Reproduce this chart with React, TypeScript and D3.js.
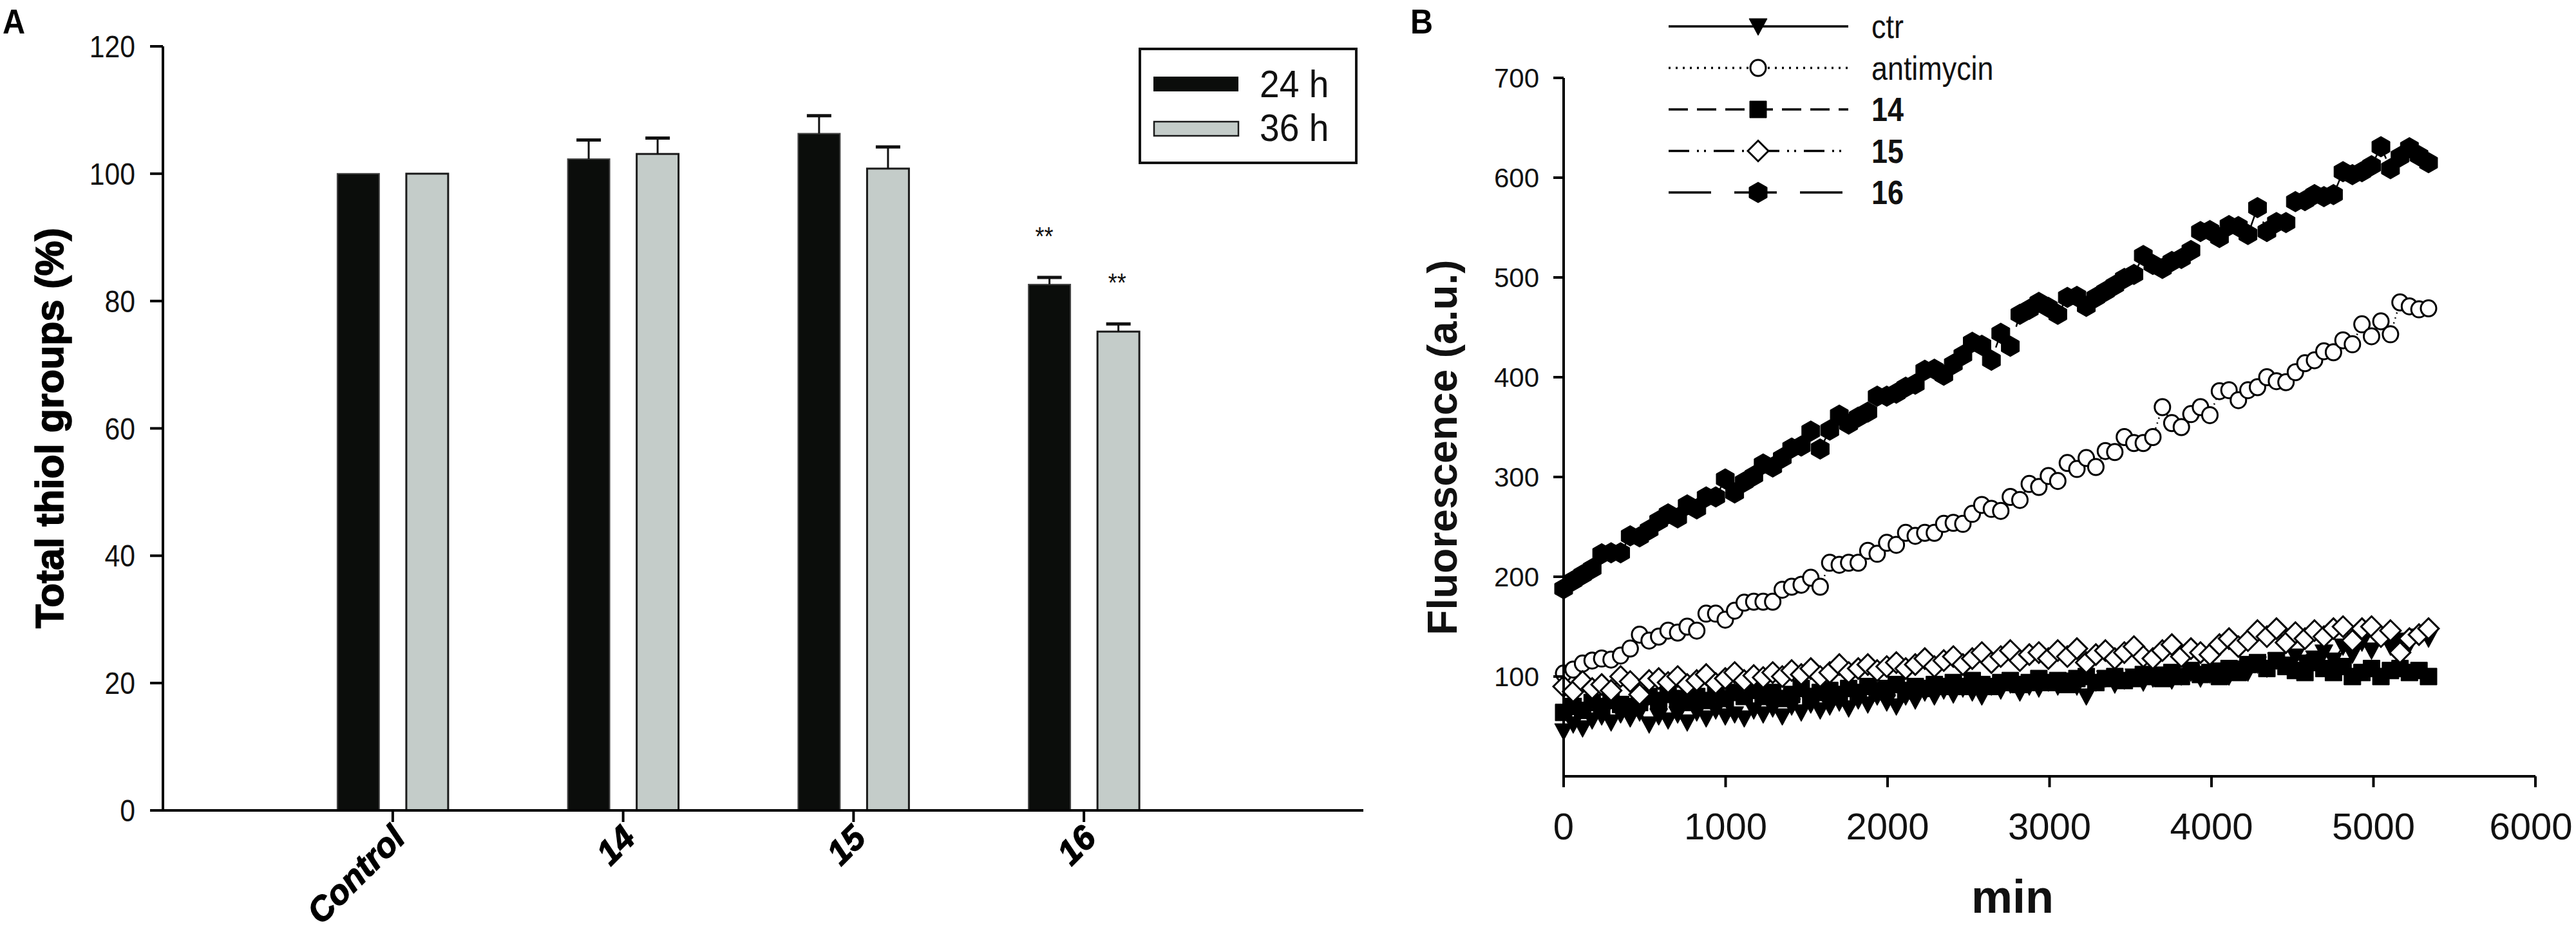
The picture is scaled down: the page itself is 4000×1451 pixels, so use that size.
import React from 'react';
import * as d3 from 'd3';

// ---------- Panel A data ----------
const categories = ['Control', '14', '15', '16'];
const groups = ['24 h', '36 h'];
const values24 = [100, 102.3, 106.3, 82.6];
const values36 = [100, 103.1, 100.8, 75.2];
const err24 = [0, 3.0, 2.8, 1.1];
const err36 = [0, 2.5, 3.4, 1.2];
const sig24 = ['', '', '', '**'];
const sig36 = ['', '', '', '**'];
const yTicksA = [0, 20, 40, 60, 80, 100, 120];

// ---------- Panel B data ----------
const times = [0, 59, 117, 176, 235, 293, 352, 411, 469, 528, 587, 645, 704, 763, 822, 880, 939, 998, 1056, 1115,
  1174, 1232, 1291, 1350, 1408, 1467, 1526, 1584, 1643, 1702, 1760, 1819, 1878, 1936, 1995, 2054, 2112, 2171, 2230, 2289,
  2347, 2406, 2465, 2523, 2582, 2641, 2699, 2758, 2817, 2875, 2934, 2993, 3051, 3110, 3169, 3227, 3286, 3345, 3403, 3462,
  3521, 3579, 3638, 3697, 3755, 3814, 3873, 3932, 3990, 4049, 4108, 4166, 4225, 4284, 4342, 4401, 4460, 4518, 4577, 4636,
  4694, 4753, 4812, 4870, 4929, 4988, 5046, 5105, 5164, 5222, 5281, 5340];

const ctr = [45, 52, 48, 56, 60, 54, 62, 58, 64, 52, 60, 56, 62, 54, 64, 58, 66, 60, 62, 58,
  66, 62, 68, 60, 70, 64, 72, 66, 70, 74, 68, 76, 72, 80, 74, 70, 80, 76, 84, 80,
  86, 82, 88, 84, 80, 90, 86, 92, 84, 90, 88, 94, 90, 96, 90, 80, 94, 98, 92, 96,
  100, 94, 98, 102, 96, 100, 104, 98, 102, 106, 100, 108, 104, 112, 108, 116, 112, 120, 114, 118,
  124, 116, 130, 122, 134, 126, 138, 130, 136, 132, 140, 138];

const antimycin = [103, 107, 113, 116, 118, 117, 121, 128, 142, 136, 140, 146, 144, 150, 146, 163, 163, 157, 166, 174,
  175, 175, 175, 187, 190, 192, 199, 190, 214, 212, 214, 214, 226, 223, 234, 232, 244, 241, 244, 244,
  253, 254, 253, 263, 272, 268, 266, 280, 277, 293, 290, 301, 296, 314, 308, 319, 310, 326, 325, 340,
  334, 334, 340, 370, 354, 350, 363, 370, 362, 386, 387, 377, 387, 390, 400, 396, 395, 405, 414, 417,
  426, 425, 437, 433, 453, 441, 456, 443, 475, 471, 468, 469];

const c14 = [64, 70, 66, 74, 70, 76, 72, 70, 74, 80, 76, 82, 78, 74, 80, 76, 82, 78, 84, 80,
  86, 80, 84, 78, 82, 88, 80, 84, 86, 82, 88, 84, 90, 86, 88, 92, 86, 90, 88, 92,
  90, 94, 90, 96, 92, 90, 94, 96, 92, 94, 98, 94, 96, 92, 98, 100, 94, 98, 100, 96,
  98, 102, 100, 98, 104, 100, 106, 102, 104, 100, 108, 104, 112, 114, 108, 116, 110, 106, 104, 114,
  108, 104, 110, 100, 104, 108, 100, 106, 108, 104, 106, 100];

const c15 = [90, 85, 95, 88, 92, 86, 100, 95, 82, 96, 98, 94, 100, 92, 96, 102, 93, 98, 104, 96,
  101, 99, 104, 100, 106, 102, 108, 100, 104, 112, 104, 108, 112, 106, 110, 114, 108, 112, 118, 110,
  116, 120, 112, 118, 124, 114, 120, 126, 116, 122, 124, 118, 126, 120, 128, 114, 122, 126, 118, 124,
  130, 120, 118, 126, 132, 120, 128, 124, 122, 132, 138, 130, 136, 146, 140, 148, 134, 144, 138, 146,
  140, 148, 150, 136, 148, 150, 140, 146, 124, 138, 142, 148];

const c16 = [188, 196, 202, 208, 223, 224, 224, 241, 240, 247, 256, 263, 259, 272, 268, 280, 280, 298, 284, 295,
  301, 313, 310, 319, 329, 331, 346, 328, 347, 362, 353, 360, 365, 381, 381, 384, 390, 393, 407, 408,
  402, 413, 422, 435, 432, 417, 444, 431, 463, 468, 475, 470, 463, 480, 481, 471, 480, 486, 492, 499,
  503, 522, 513, 509, 516, 519, 527, 546, 547, 540, 552, 551, 543, 570, 546, 555, 555, 576, 577, 583,
  581, 583, 606, 603, 606, 612, 631, 609, 621, 630, 622, 615];

const seriesNames = ['ctr', 'antimycin', '14', '15', '16'];
const seriesBold = [false, false, true, true, true];
const xTicksB = [0, 1000, 2000, 3000, 4000, 5000, 6000];
const yTicksB = [100, 200, 300, 400, 500, 600, 700];

const FONT = 'Liberation Sans, Arial, sans-serif';
const BLACK = '#0b0d0b';
const GRAY = '#c4ccc9';

function markerPath(kind: string): string {
  switch (kind) {
    case 'tri': return 'M-14,-12L14,-12L0,14Z';
    case 'square': return 'M-13,-13L13,-13L13,13L-13,13Z';
    case 'diamond': return 'M0,-16L16,0L0,16L-16,0Z';
    case 'hex': return 'M0,-16L14,-8L14,8L0,16L-14,8L-14,-8Z';
    default: return '';
  }
}

function Marker({ kind, x, y }: { kind: string; x: number; y: number }) {
  if (kind === 'circle') {
    return <ellipse cx={x} cy={y} rx={12} ry={12.5} fill="#fff" stroke="#000" strokeWidth={3} />;
  }
  const filled = kind === 'tri' || kind === 'square' || kind === 'hex';
  return (
    <path d={markerPath(kind)} transform={`translate(${x},${y})`} fill={filled ? '#000' : '#fff'}
      stroke="#000" strokeWidth={filled ? 1 : 3} strokeLinejoin="miter" />
  );
}

export default function App() {
  // ---------- Panel A scales ----------
  const yA = d3.scaleLinear().domain([0, 120]).range([1259, 72]);
  const xA = d3.scaleBand<string>().domain(categories).range([431, 1862]).paddingInner(0).paddingOuter(0);
  const sub = d3.scaleBand<string>().domain(groups).range([-86, 86]).paddingInner(0.393);
  const axisAX = 253;
  const axisAEnd = 2117;

  // ---------- Panel B scales ----------
  const xB = d3.scaleLinear().domain([0, 6000]).range([2428, 3937]);
  const yB = d3.scaleLinear().domain([0, 700]).range([1206, 121]);

  const seriesData = [ctr, antimycin, c14, c15, c16];
  const kinds = ['tri', 'circle', 'square', 'diamond', 'hex'];
  const dashes = ['none', '2 6', '22 12', '22 8 3 6 3 8', '50 30'];
  const legendDashes = ['none', '3 8', '30 14', '32 12 3 8 3 12', '66 36'];

  const line = d3.line<[number, number]>().x(d => xB(d[0])).y(d => yB(d[1]));

  const bars: JSX.Element[] = [];
  categories.forEach((c, i) => {
    const cx = (xA(c) as number) + xA.bandwidth() / 2;
    const sets = [
      { g: groups[0], v: values24[i], e: err24[i], s: sig24[i], fill: BLACK, stroke: '#444', sw: 2 },
      { g: groups[1], v: values36[i], e: err36[i], s: sig36[i], fill: GRAY, stroke: '#1a1a1a', sw: 3 },
    ];
    sets.forEach((st, j) => {
      const bx = cx + (sub(st.g) as number);
      const bw = sub.bandwidth();
      const top = yA(st.v);
      const bcx = bx + bw / 2;
      bars.push(
        <g key={`b${i}-${j}`}>
          <rect x={bx} y={top} width={bw} height={yA(0) - top} fill={st.fill} stroke={st.stroke} strokeWidth={st.sw} />
          {st.e > 0 && (
            <g stroke="#111">
              <line x1={bcx} x2={bcx} y1={top} y2={yA(st.v + st.e)} strokeWidth={3} />
              <line x1={bcx - 19} x2={bcx + 19} y1={yA(st.v + st.e)} y2={yA(st.v + st.e)} strokeWidth={5} />
            </g>
          )}
          {st.s && (
            <text transform={`translate(${bcx - (j === 0 ? 8 : 2)},${yA(st.v + st.e) - 50}) scale(0.9,1)`}
              textAnchor="middle" fontFamily={FONT} fontSize={40} fill="#111">{st.s}</text>
          )}
        </g>
      );
    });
  });

  return (
    <svg width={4000} height={1451} viewBox="0 0 4000 1451"
      style={{ position: 'absolute', left: 0, top: 0, background: '#fff' }}>
      <rect x={0} y={0} width={4000} height={1451} fill="#fff" />

      {/* ================= Panel A ================= */}
      <text transform="translate(4,52) scale(0.9,1)" fontFamily={FONT} fontWeight="bold" fontSize={54} fill="#000">A</text>

      {bars}

      {/* y axis */}
      <line x1={axisAX} x2={axisAX} y1={yA(120)} y2={yA(0)} stroke="#000" strokeWidth={4} />
      {yTicksA.map(t => (
        <g key={`ya${t}`}>
          <line x1={axisAX - 20} x2={axisAX} y1={yA(t)} y2={yA(t)} stroke="#000" strokeWidth={4} />
          <text transform={`translate(${210},${yA(t) + 17}) scale(0.89,1)`} textAnchor="end"
            fontFamily={FONT} fontSize={48} fill="#111">{t}</text>
        </g>
      ))}
      {/* x axis */}
      <line x1={axisAX - 20} x2={axisAEnd} y1={yA(0)} y2={yA(0)} stroke="#000" strokeWidth={4} />
      {categories.map(c => {
        const cx = (xA(c) as number) + xA.bandwidth() / 2;
        return (
          <g key={`xa${c}`}>
            <line x1={cx} x2={cx} y1={yA(0)} y2={yA(0) + 18} stroke="#000" strokeWidth={4} />
            <text transform={`translate(${cx + 22},${yA(0) + 46}) rotate(-45)`} textAnchor="end"
              fontFamily={FONT} fontWeight="bold" fontStyle="italic" fontSize={53} fill="#000"
              stroke="#000" strokeWidth={1.4}>{c}</text>
          </g>
        );
      })}
      <text transform={`translate(${98},${665}) rotate(-90)`} textAnchor="middle"
        fontFamily={FONT} fontWeight="bold" fontSize={61} fill="#000" stroke="#000" strokeWidth={1.6}>Total thiol groups (%)</text>

      {/* legend A */}
      <rect x={1770} y={76} width={336} height={177} fill="#fff" stroke="#111" strokeWidth={4} />
      <rect x={1791} y={119} width={132} height={23} fill={BLACK} />
      <rect x={1792} y={189} width={131} height={22} fill={GRAY} stroke="#1a1a1a" strokeWidth={2.5} />
      <text transform={`translate(${1956},${151}) scale(0.92,1)`} fontFamily={FONT} fontSize={60} fill="#111">{groups[0]}</text>
      <text transform={`translate(${1956},${219}) scale(0.92,1)`} fontFamily={FONT} fontSize={60} fill="#111">{groups[1]}</text>

      {/* ================= Panel B ================= */}
      <text transform="translate(2190,52) scale(0.9,1)" fontFamily={FONT} fontWeight="bold" fontSize={54} fill="#000">B</text>

      {/* series lines */}
      {seriesData.map((vals, si) => (
        <path key={`l${si}`} d={line(times.map((t, k) => [t, vals[k]]) as [number, number][]) || ''}
          fill="none" stroke="#000" strokeWidth={2.5}
          strokeDasharray={dashes[si] === 'none' ? undefined : dashes[si]} />
      ))}
      {/* series markers */}
      {seriesData.map((vals, si) => (
        <g key={`m${si}`}>
          {times.map((t, k) => (
            <Marker key={k} kind={kinds[si]} x={xB(t)} y={yB(vals[k])} />
          ))}
        </g>
      ))}

      {/* axes B */}
      <line x1={xB(0)} x2={xB(0)} y1={yB(700)} y2={yB(0)} stroke="#000" strokeWidth={4} />
      {yTicksB.map(t => (
        <g key={`yb${t}`}>
          <line x1={xB(0) - 16} x2={xB(0)} y1={yB(t)} y2={yB(t)} stroke="#000" strokeWidth={4} />
          <text x={2390} y={yB(t) + 15} textAnchor="end" fontFamily={FONT} fontSize={42} fill="#111">{t}</text>
        </g>
      ))}
      <line x1={xB(0)} x2={xB(6000)} y1={yB(0)} y2={yB(0)} stroke="#000" strokeWidth={4} />
      {xTicksB.map(t => (
        <g key={`xb${t}`}>
          <line x1={xB(t)} x2={xB(t)} y1={yB(0)} y2={yB(0) + 17} stroke="#000" strokeWidth={4} />
          <text x={Math.min(xB(t), 3930)} y={1304} textAnchor="middle" fontFamily={FONT} fontSize={58} fill="#111">{t}</text>
        </g>
      ))}
      <text x={3125} y={1418} textAnchor="middle" fontFamily={FONT} fontWeight="bold" fontSize={72} fill="#111">min</text>
      <text transform={`translate(${2262},${695}) rotate(-90)`} textAnchor="middle"
        fontFamily={FONT} fontWeight="bold" fontSize={64} fill="#111">Fluorescence (a.u.)</text>

      {/* legend B */}
      {seriesNames.map((n, si) => {
        const ly = 41 + si * 64.5;
        return (
          <g key={`lg${si}`}>
            <line x1={2591} x2={2870} y1={ly} y2={ly} stroke="#000" strokeWidth={3.5}
              strokeDasharray={legendDashes[si] === 'none' ? undefined : legendDashes[si]} />
            <Marker kind={kinds[si]} x={2730} y={ly} />
            <text transform={`translate(2906,${ly + 18}) scale(0.88,1)`} fontFamily={FONT} fontSize={51}
              fontWeight={seriesBold[si] ? 'bold' : 'normal'} fill="#111">{n}</text>
          </g>
        );
      })}
    </svg>
  );
}
